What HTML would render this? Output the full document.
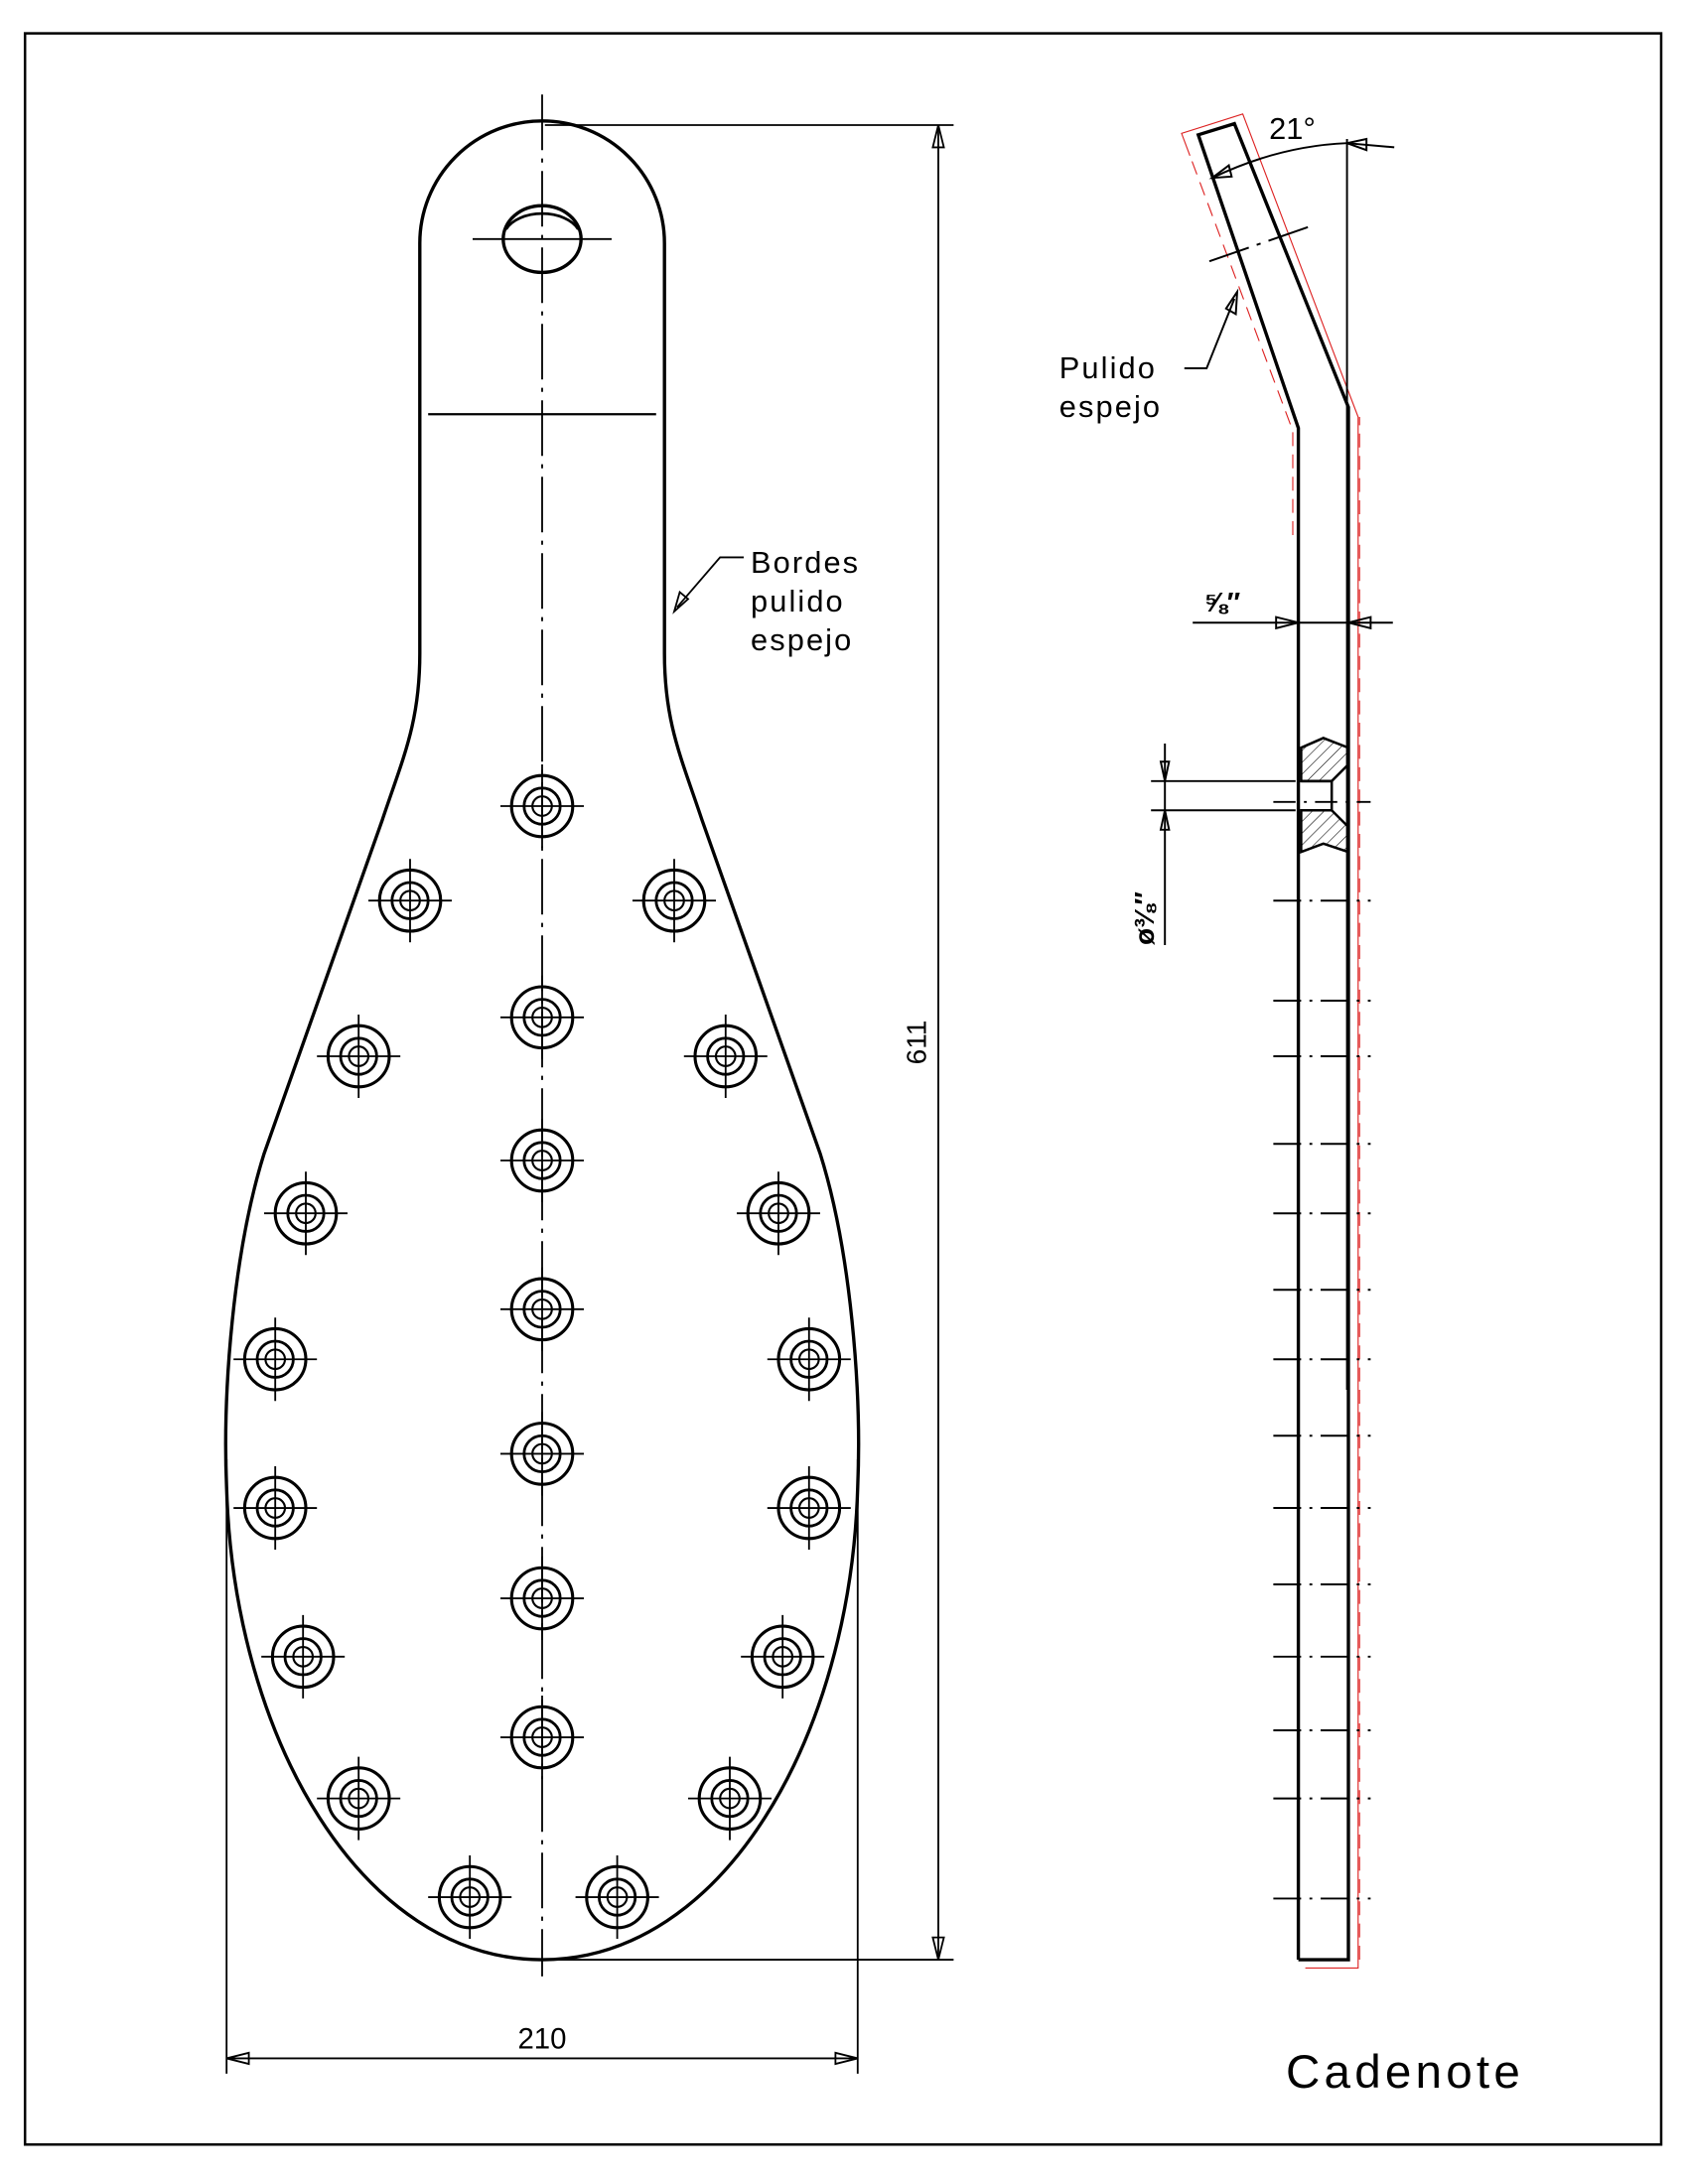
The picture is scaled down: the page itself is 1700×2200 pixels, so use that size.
<!DOCTYPE html>
<html><head><meta charset="utf-8"><style>html,body{margin:0;padding:0;background:#fff}svg{display:block}</style></head>
<body>
<svg width="1700" height="2200" viewBox="0 0 1214.3 1571.4" preserveAspectRatio="none" xmlns="http://www.w3.org/2000/svg" font-family="Liberation Sans, sans-serif">
<defs>
<pattern id="h" width="6" height="6" patternUnits="userSpaceOnUse" patternTransform="rotate(45)"><line x1="0" y1="0" x2="0" y2="6" stroke="#000" stroke-width="0.8"/></pattern>
<g id="hole"><circle r="22" fill="none" stroke="#000" stroke-width="2.2"/><circle r="13" fill="none" stroke="#000" stroke-width="2"/><circle r="7" fill="none" stroke="#000" stroke-width="1.5"/><line x1="-30" y1="0" x2="30" y2="0" stroke="#000" stroke-width="1.3"/><line x1="0" y1="-30" x2="0" y2="30" stroke="#000" stroke-width="1.3"/></g>
</defs>
<rect x="18" y="24" width="1177" height="1519" fill="none" stroke="#000" stroke-width="1.8"/>
<!-- paddle -->
<path d="M302,175 A88,88 0 0 1 478,175 L478,470 C478,520 490,545 505,590 L590,830 C612,900 620,1000 617,1070 C612,1250 520,1410 390,1410 C260,1410 168,1250 163,1070 C160,1000 168,900 190,830 L275,590 C290,545 302,520 302,470 Z" fill="none" stroke="#000" stroke-width="2.4"/>
<line x1="390" y1="68" x2="390" y2="1422" stroke="#000" stroke-width="1.3" stroke-dasharray="40,6,3,6"/>
<ellipse cx="390" cy="172" rx="28" ry="24" fill="none" stroke="#000" stroke-width="2.4"/>
<path d="M364,165 A28,18 0 0 1 416,165" fill="none" stroke="#000" stroke-width="2"/>
<line x1="340" y1="172" x2="440" y2="172" stroke="#000" stroke-width="1.3"/>
<line x1="308" y1="298" x2="472" y2="298" stroke="#000" stroke-width="1.6"/>
<g>
<use href="#hole" x="390" y="580"/><use href="#hole" x="390" y="732"/><use href="#hole" x="390" y="835"/><use href="#hole" x="390" y="942"/><use href="#hole" x="390" y="1046"/><use href="#hole" x="390" y="1150"/><use href="#hole" x="390" y="1250"/>
<use href="#hole" x="295" y="648"/><use href="#hole" x="485" y="648"/><use href="#hole" x="258" y="760"/><use href="#hole" x="522" y="760"/><use href="#hole" x="220" y="873"/><use href="#hole" x="560" y="873"/><use href="#hole" x="198" y="978"/><use href="#hole" x="582" y="978"/><use href="#hole" x="198" y="1085"/><use href="#hole" x="582" y="1085"/><use href="#hole" x="218" y="1192"/><use href="#hole" x="563" y="1192"/><use href="#hole" x="258" y="1294"/><use href="#hole" x="525" y="1294"/><use href="#hole" x="338" y="1365"/><use href="#hole" x="444" y="1365"/>
</g>
<!-- 611 dim -->
<g stroke="#000" stroke-width="1.3" fill="none">
<line x1="392" y1="90" x2="686" y2="90"/><line x1="392" y1="1410" x2="686" y2="1410"/>
<line x1="675" y1="90" x2="675" y2="1410"/>
<path d="M675,90 l-4,16 h8 z M675,1410 l-4,-16 h8 z"/>
<line x1="163" y1="1050" x2="163" y2="1492"/><line x1="617" y1="1050" x2="617" y2="1492"/>
<line x1="163" y1="1481" x2="617" y2="1481"/>
<path d="M163,1481 l16,-4 v8 z M617,1481 l-16,-4 v8 z"/>
<polyline points="535,401 518,401 487,437"/>
<path d="M485,440 l4,-14 l6,5 z"/>
</g>
<text x="0" y="0" font-size="20" transform="translate(666,750) rotate(-90)" text-anchor="middle">611</text>
<text x="390" y="1474" font-size="21" text-anchor="middle">210</text>
<g font-size="22" letter-spacing="1.5"><text x="540" y="412">Bordes</text><text x="540" y="440">pulido</text><text x="540" y="468">espejo</text></g>
<!-- right profile -->
<g fill="none" stroke="#000" stroke-width="2.4">
<polyline points="934,1410 934,308 862,97 888,89 970,293 970,1410 934,1410"/>
</g>
<g fill="none" stroke="#d22" stroke-width="0.8">
<polyline points="939,1416 977,1416 977,300 894,82 850,96 856,112"/>
<polyline points="930,385 930,310 856,112" stroke-dasharray="10,6"/>
<polyline points="978,1410 978,300" stroke-dasharray="10,6"/>
</g>
<g stroke="#000" stroke-width="1.4" fill="none">
<line x1="969" y1="100" x2="969" y2="1000"/>
<path d="M872,128 Q920,105 969,103"/>
<line x1="969" y1="103" x2="1003" y2="106"/>
<path d="M969,103 l14,-3 v8 z M872,128 l12,-9 l2,8 z"/>
<line x1="870" y1="188" x2="942" y2="163" stroke-dasharray="30,6,3,6"/>
<polyline points="852,265 868,265 888,215"/>
<path d="M890,210 l-1,16 l-7,-4 z"/>
<line x1="858" y1="448" x2="1002" y2="448"/>
<path d="M934,448 l-16,-4 v8 z M970,448 l16,-4 v8 z"/>
<line x1="838" y1="535" x2="838" y2="680"/>
<line x1="828" y1="562" x2="932" y2="562"/><line x1="828" y1="583" x2="932" y2="583"/>
<path d="M838,562 l-3,-14 h6 z M838,583 l-3,14 h6 z"/>
</g>
<path d="M936,538 L952,531 L970,538 L970,550 L958,562 L936,562 Z" fill="url(#h)" stroke="#000" stroke-width="1.8"/>
<path d="M936,583 L958,583 L970,595 L970,613 L952,607 L936,613 Z" fill="url(#h)" stroke="#000" stroke-width="1.8"/>
<path d="M936,562 H958 V583 H936" fill="none" stroke="#000" stroke-width="1.8"/>
<g stroke="#000" stroke-width="1.4">
<line x1="916" y1="577" x2="986" y2="577" stroke-dasharray="16,6,2,6"/>
<line x1="916" y1="648" x2="986" y2="648" stroke-dasharray="20,6,2,6"/>
<line x1="916" y1="720" x2="986" y2="720" stroke-dasharray="20,6,2,6"/>
<line x1="916" y1="760" x2="986" y2="760" stroke-dasharray="20,6,2,6"/>
<line x1="916" y1="823" x2="986" y2="823" stroke-dasharray="20,6,2,6"/>
<line x1="916" y1="873" x2="986" y2="873" stroke-dasharray="20,6,2,6"/>
<line x1="916" y1="928" x2="986" y2="928" stroke-dasharray="20,6,2,6"/>
<line x1="916" y1="978" x2="986" y2="978" stroke-dasharray="20,6,2,6"/>
<line x1="916" y1="1033" x2="986" y2="1033" stroke-dasharray="20,6,2,6"/>
<line x1="916" y1="1085" x2="986" y2="1085" stroke-dasharray="20,6,2,6"/>
<line x1="916" y1="1140" x2="986" y2="1140" stroke-dasharray="20,6,2,6"/>
<line x1="916" y1="1192" x2="986" y2="1192" stroke-dasharray="20,6,2,6"/>
<line x1="916" y1="1245" x2="986" y2="1245" stroke-dasharray="20,6,2,6"/>
<line x1="916" y1="1294" x2="986" y2="1294" stroke-dasharray="20,6,2,6"/>
<line x1="916" y1="1366" x2="986" y2="1366" stroke-dasharray="20,6,2,6"/>
</g>
<text x="913" y="100" font-size="22">21°</text>
<g font-size="22" letter-spacing="1.5"><text x="762" y="272">Pulido</text><text x="762" y="300">espejo</text></g>
<text x="866" y="440" font-size="20" font-weight="bold">⅝″</text>
<text x="0" y="0" font-size="20" font-weight="bold" transform="translate(830,680) rotate(-90)">ø⅜″</text>
<text x="925" y="1502" font-size="34" letter-spacing="3">Cadenote</text>
</svg>
</body></html>
